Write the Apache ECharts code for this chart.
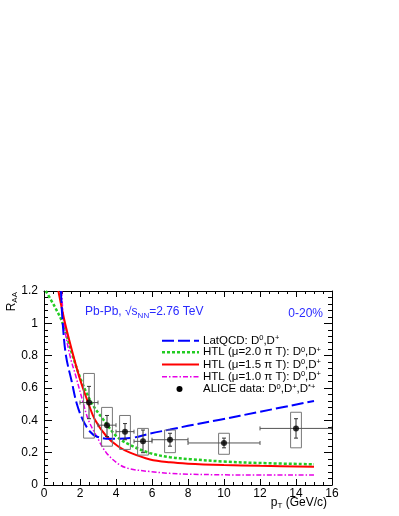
<!DOCTYPE html>
<html><head><meta charset="utf-8">
<script src="https://cdn.jsdelivr.net/npm/echarts@6/dist/echarts.min.js"></script>
<style>html,body{margin:0;padding:0;background:#fff}#c{width:399px;height:516px}</style>
</head><body><div id="c"></div>
<script>
// ---- data ----
const aliceX     = [2.5, 3.5, 4.5, 5.5, 7, 10, 14];
const aliceY     = [0.51, 0.37, 0.33, 0.27, 0.28, 0.26, 0.35];
const aliceXLow  = [2, 3, 4, 5, 6, 8, 12];
const aliceXHigh = [3, 4, 5, 6, 8, 12, 16];
const statLow    = [0.41, 0.30, 0.28, 0.20, 0.24, 0.23, 0.29];
const statHigh   = [0.61, 0.43, 0.38, 0.34, 0.32, 0.29, 0.41];
const sysLow     = [0.29, 0.24, 0.22, 0.185, 0.20, 0.19, 0.23];
const sysHigh    = [0.69, 0.48, 0.43, 0.35, 0.34, 0.32, 0.45];

const latQCD = [[0.94,1.2],[1.04,1.0],[1.22,0.8],[1.54,0.64],[1.81,0.507],[2.15,0.404],[2.55,0.331],[2.93,0.30],[3.67,0.286],[4.78,0.29],[5.89,0.318],[7.0,0.343],[8.0,0.366],[9.78,0.404],[12.0,0.453],[15.0,0.52]];
const htl20  = [[0.1,1.2],[0.61,1.1],[1.04,1.0],[1.59,0.8],[2.09,0.64],[2.65,0.507],[3.3,0.404],[4.04,0.30],[4.78,0.248],[5.89,0.197],[7.0,0.172],[8.1,0.16],[10.0,0.145],[12.0,0.136],[15.0,0.128]];
const htl15  = [[0.8,1.2],[1.17,1.0],[1.63,0.8],[2.04,0.64],[2.46,0.507],[2.83,0.404],[3.48,0.30],[4.13,0.238],[4.78,0.200],[5.89,0.158],[7.0,0.14],[8.0,0.132],[10.0,0.124],[12.0,0.119],[15.0,0.113]];
const htl10  = [[0.98,1.2],[1.11,1.0],[1.44,0.8],[1.75,0.68],[2.18,0.507],[2.46,0.404],[2.93,0.30],[3.48,0.197],[4.22,0.124],[4.78,0.10],[5.89,0.083],[7.0,0.072],[8.0,0.067],[10.0,0.063],[12.0,0.062],[15.0,0.062]];

const legendNames = ['LatQCD: D0,D+', 'HTL (\u03bc=2.0 \u03c0 T): D0,D+', 'HTL (\u03bc=1.5 \u03c0 T): D0,D+', 'HTL (\u03bc=1.0 \u03c0 T): D0,D+', 'ALICE data: D0,D+,D*+'];
const legendRich = [
  '{n|LatQCD: D}{s|0}{n|,D}{s|+}',
  '{n|HTL (\u03bc=2.0 \u03c0 T): D}{s|0}{n|,D}{s|+}',
  '{n|HTL (\u03bc=1.5 \u03c0 T): D}{s|0}{n|,D}{s|+}',
  '{n|HTL (\u03bc=1.0 \u03c0 T): D}{s|0}{n|,D}{s|+}',
  '{n|ALICE data: D}{s|0}{n|,D}{s|+}{n|,D}{s|*+}'
];

const sysHalfWidth = 0.3;
const FONT = 'Liberation Sans, Arial, Helvetica, sans-serif';
const BLUE_TXT = '#2a2aff';

const boxData = aliceX.map((x,i)=>[x, aliceY[i], aliceXLow[i], aliceXHigh[i], statLow[i], statHigh[i], sysLow[i], sysHigh[i]]);
const pointData = aliceX.map((x,i)=>[x, aliceY[i]]);

const colors = {lat:'#0000ff', h20:'#22cc22', h15:'#ff0000', h10:'#e600e6'};

const chart = echarts.init(document.getElementById('c'), null, {renderer:'canvas'});

function axisCommon(extra){
  return Object.assign({
    type:'value',
    axisLine:{show:true, onZero:false, lineStyle:{color:'#000', width:1}},
    splitLine:{show:false},
  }, extra);
}

const rich = {
  n:{fontSize:11.5, lineHeight:13, fill:'#000', fontFamily:FONT},
  s:{fontSize:7.5, lineHeight:7, verticalAlign:'top', fill:'#000', fontFamily:FONT}
};
const legendRows = [340.7, 352.2, 364.4, 376.7, 389];
const legendGraphics = [];
const legendStyles = [
  {stroke:colors.lat, lineWidth:2, lineDash:[12,4]},
  {stroke:colors.h20, lineWidth:2.5, lineDash:[3,2]},
  {stroke:colors.h15, lineWidth:2},
  {stroke:colors.h10, lineWidth:1.5, lineDash:[5,2,1.5,2]}
];
legendRows.forEach((y,i)=>{
  if(i<4){
    legendGraphics.push({type:'line', shape:{x1:162,y1:y,x2:199,y2:y}, style:legendStyles[i], silent:true});
  } else {
    legendGraphics.push({type:'circle', shape:{cx:179.5, cy:y, r:3}, style:{fill:'#000'}, silent:true});
  }
  legendGraphics.push({type:'text', x:203, y:y, style:{text:legendRich[i], rich:rich, verticalAlign:'middle', align:'left'}, silent:true});
});

const lineCommon = {type:'line', symbol:'none', smooth:0.35, clip:true};

const option = {
  animation:false,
  backgroundColor:'#fff',
  grid:{left:44, right:67, top:291, bottom:31, containLabel:false},
  xAxis:[
    axisCommon({min:0, max:16, interval:2, position:'bottom',
      axisTick:{show:true, inside:true, length:6, lineStyle:{color:'#000'}},
      minorTick:{show:true, splitNumber:4, length:3, lineStyle:{color:'#000'}},
      axisLabel:{show:true, margin:3, fontSize:12, color:'#000', fontFamily:FONT}}),
    axisCommon({min:0, max:16, interval:2, position:'top',
      axisTick:{show:true, inside:true, length:6, lineStyle:{color:'#000'}},
      minorTick:{show:true, splitNumber:4, length:3, lineStyle:{color:'#000'}},
      axisLabel:{show:false}})
  ],
  yAxis:[
    axisCommon({min:0, max:1.2, interval:0.2, position:'left',
      axisTick:{show:true, inside:true, length:8, lineStyle:{color:'#000'}},
      minorTick:{show:true, splitNumber:5, length:4, lineStyle:{color:'#000'}},
      axisLabel:{show:true, margin:6, fontSize:12, color:'#000', fontFamily:FONT}}),
    axisCommon({min:0, max:1.2, interval:0.2, position:'right',
      axisTick:{show:true, inside:true, length:8, lineStyle:{color:'#000'}},
      minorTick:{show:true, splitNumber:5, length:4, lineStyle:{color:'#000'}},
      axisLabel:{show:false}})
  ],
  series:[
    Object.assign({name:legendNames[1], data:htl20, lineStyle:{color:colors.h20, width:2.5, type:[3,2]}, z:3}, lineCommon),
    Object.assign({name:legendNames[3], data:htl10, lineStyle:{color:colors.h10, width:1.5, type:[5,2,1.5,2]}, z:3}, lineCommon),
    Object.assign({name:legendNames[2], data:htl15, lineStyle:{color:colors.h15, width:2}, z:4}, lineCommon),
    Object.assign({name:legendNames[0], data:latQCD, lineStyle:{color:colors.lat, width:2, type:[12,4]}, z:5}, lineCommon),
    {type:'custom', data:boxData, clip:true, z:6,
      encode:{x:0, y:1},
      renderItem:function(params, api){
        const x=api.value(0), y=api.value(1), xl=api.value(2), xh=api.value(3);
        const sl=api.value(4), sh=api.value(5), bl=api.value(6), bh=api.value(7);
        const tl=api.coord([x-sysHalfWidth, bh]), br=api.coord([x+sysHalfWidth, bl]);
        const c=api.coord([x,y]), pl=api.coord([xl,y]), ph=api.coord([xh,y]);
        const s1=api.coord([x,sl]), s2=api.coord([x,sh]);
        const cap=2;
        return {type:'group', children:[
          {type:'rect', shape:{x:tl[0], y:tl[1], width:br[0]-tl[0], height:br[1]-tl[1]}, style:{fill:'none', stroke:'#777', lineWidth:1}},
          {type:'line', shape:{x1:pl[0], y1:c[1], x2:ph[0], y2:c[1]}, style:{stroke:'#555', lineWidth:1}},
          {type:'line', shape:{x1:pl[0], y1:c[1]-cap, x2:pl[0], y2:c[1]+cap}, style:{stroke:'#555', lineWidth:1}},
          {type:'line', shape:{x1:ph[0], y1:c[1]-cap, x2:ph[0], y2:c[1]+cap}, style:{stroke:'#555', lineWidth:1}},
          {type:'line', shape:{x1:c[0], y1:s1[1], x2:c[0], y2:s2[1]}, style:{stroke:'#333', lineWidth:1}},
          {type:'line', shape:{x1:c[0]-cap, y1:s1[1], x2:c[0]+cap, y2:s1[1]}, style:{stroke:'#333', lineWidth:1}},
          {type:'line', shape:{x1:c[0]-cap, y1:s2[1], x2:c[0]+cap, y2:s2[1]}, style:{stroke:'#333', lineWidth:1}}
        ]};
      }
    },
    {name:legendNames[4], type:'scatter', data:pointData, symbol:'circle', symbolSize:6, itemStyle:{color:'#000'}, z:7}
  ],
  graphic:[
    {type:'text', x:12, y:292, rotation:Math.PI/2,
      style:{text:'{r|R}{b|AA}', align:'right', verticalAlign:'middle',
        rich:{r:{fontSize:12, lineHeight:14, fill:'#000', fontFamily:FONT}, b:{fontSize:8, lineHeight:8, verticalAlign:'bottom', fill:'#000', fontFamily:FONT}}}},
    {type:'text', x:327, y:503,
      style:{text:'{r|p}{b|T}{r| (GeV/c)}', align:'right', verticalAlign:'middle',
        rich:{r:{fontSize:12, lineHeight:14, fill:'#000', fontFamily:FONT}, b:{fontSize:8, lineHeight:8, verticalAlign:'bottom', fill:'#000', fontFamily:FONT}}}},
    {type:'text', x:85, y:312,
      style:{text:'{r|Pb-Pb, \u221a}{r|s}{b|NN}{r|=2.76 TeV}', align:'left', verticalAlign:'middle',
        rich:{r:{fontSize:12, lineHeight:15, fill:BLUE_TXT, fontFamily:FONT}, b:{fontSize:8, lineHeight:8, verticalAlign:'bottom', fill:BLUE_TXT, fontFamily:FONT}}}},
    {type:'text', x:323, y:314,
      style:{text:'0-20%', align:'right', verticalAlign:'middle', fontSize:12, fill:BLUE_TXT, fontFamily:FONT}}
  ].concat(legendGraphics)
};
chart.setOption(option);
</script></body></html>
